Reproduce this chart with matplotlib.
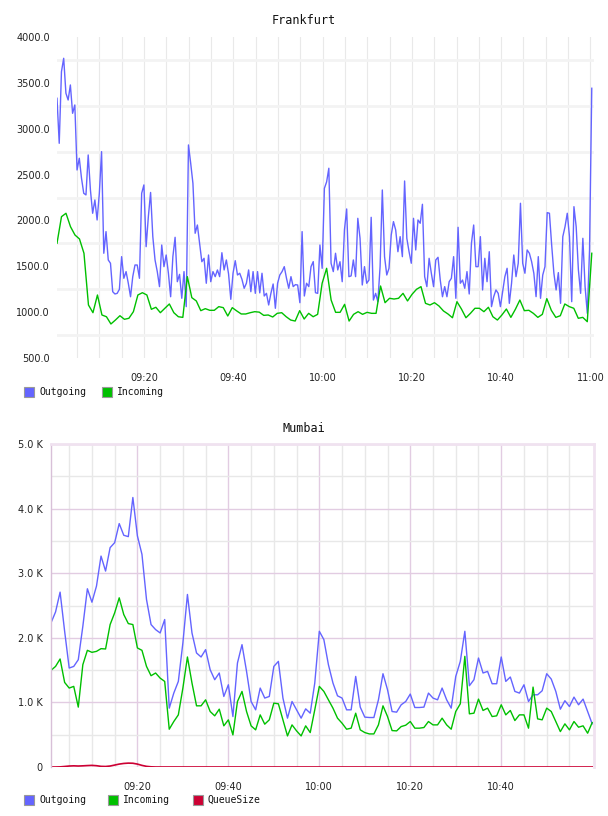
import numpy as np
import matplotlib
matplotlib.use("Agg")
import matplotlib.pyplot as plt
from matplotlib.ticker import FixedLocator, FuncFormatter
from matplotlib.patches import Rectangle

# times are minutes after 09:00
fra_start, fra_end = 0.5, 120.3
fra_outgoing = [
    3332, 2841, 3622, 3768, 3387, 3313, 3477, 3168, 3259, 2550,
    2678, 2460, 2296, 2278, 2714, 2332, 2078, 2223, 2005, 2296,
    2750, 1642, 1878, 1569, 1533, 1223, 1198, 1205, 1249, 1605,
    1369, 1442, 1315, 1168, 1387, 1514, 1514, 1369, 2296, 2387,
    1714, 2041, 2305, 1823, 1569, 1442, 1278, 1732, 1496, 1623,
    1424, 1168, 1605, 1816, 1332, 1412, 1151, 1442, 1060, 2823,
    2623,
    2405, 1860, 1950, 1751, 1550, 1587, 1315, 1623, 1332, 1442,
    1387, 1460, 1387, 1648, 1460, 1569, 1416, 1140, 1424, 1561,
    1405, 1424, 1358, 1260, 1315, 1460, 1223, 1442, 1205, 1442,
    1210, 1424, 1176, 1205, 1078, 1205, 1307, 1042, 1315, 1405,
    1442, 1496, 1369, 1260, 1387, 1278, 1300, 1296, 1103, 1878,
    1176, 1315, 1278, 1496, 1551, 1212, 1205, 1732, 1478, 2350,
    2420,
    2569, 1533, 1442, 1642, 1460, 1550, 1332, 1896, 2125, 1387,
    1395, 1569, 1387, 2023, 1805, 1296, 1496, 1315, 1350, 2034,
    1132, 1205, 1114, 1496, 2332, 1605, 1405, 1478, 1842, 1987,
    1896, 1659, 1823, 1605, 2430, 1805, 1659, 1533, 2023, 1678,
    2005, 1969, 2176, 1387, 1278, 1587, 1424, 1278, 1569, 1598,
    1350, 1168, 1278, 1168, 1332, 1369, 1605, 1151, 1925, 1315,
    1350, 1260, 1442, 1198, 1751, 1950, 1496, 1496, 1823, 1242,
    1587, 1332, 1659, 1060, 1169, 1242, 1205, 1060, 1223, 1387,
    1478, 1096, 1315, 1623, 1387, 1533, 2187, 1533, 1424, 1678,
    1642, 1551, 1424, 1169, 1605, 1151, 1405, 1496, 2085, 2078,
    1732, 1424, 1242, 1431, 1096, 1823, 1932, 2078, 1823, 1114,
    2150, 1932, 1460, 1205, 1805, 1278, 987, 1678, 3441,
]
fra_incoming = [
    1751, 2041, 2078, 1932, 1841, 1798, 1642, 1078, 994, 1187,
    969, 950, 871, 914, 961, 922, 933, 1005, 1187, 1212,
    1187, 1031, 1053, 994, 1042, 1089, 994, 950, 943, 1387,
    1158, 1122, 1016, 1038, 1020, 1020, 1060, 1049, 958, 1049,
    1013, 980, 980, 994, 1005, 1000, 965, 969, 947, 987,
    994, 950, 914, 903, 1016, 925, 987, 950, 976, 1315,
    1478, 1132, 998, 998, 1085, 903, 976, 1005, 976, 998,
    987, 987, 1285, 1103, 1151, 1143, 1151, 1205, 1122, 1194,
    1249, 1278, 1096, 1078, 1103, 1067, 1013, 980, 939, 1114,
    1034, 939, 987, 1042, 1042, 1005, 1053, 950, 914, 969,
    1034, 943, 1031, 1132, 1016, 1020, 987, 943, 976, 1147,
    1020, 943, 961, 1089, 1060, 1042, 933, 943, 896, 1642,
]

mum_start, mum_end = 1.0, 120.0
mum_outgoing = [
    2231, 2400, 2707, 2100, 1532, 1557, 1661, 2178, 2759, 2551,
    2800, 3265, 3033, 3396, 3473, 3768, 3587, 3566, 4172, 3577,
    3292, 2593, 2205, 2127, 2075, 2283, 911, 1144, 1325, 1921,
    2671, 2075, 1765, 1703, 1817, 1506, 1351, 1455, 1092, 1273,
    781, 1610, 1894, 1480, 1014, 885, 1222, 1067, 1092, 1557,
    1635, 1067, 756, 1014, 885, 756, 900, 833, 1300, 2101,
    1972, 1584, 1300, 1102, 1067, 885, 885, 1402, 927, 772,
    766, 766, 1040, 1444, 1196, 859, 849, 963, 1014, 1129,
    921, 921, 927, 1144, 1067, 1040, 1222, 1040, 911, 1402,
    1635, 2101, 1258, 1351, 1687, 1455, 1480, 1289, 1289, 1703,
    1325, 1393, 1170, 1144, 1273, 1014, 1118, 1118, 1180, 1444,
    1361, 1170, 895, 1026, 936, 1082, 963, 1051, 859, 668,
]
mum_incoming = [
    1496, 1557, 1672, 1309, 1222, 1248, 927, 1584, 1806, 1775,
    1790, 1832, 1827, 2205, 2386, 2619, 2360, 2220, 2205, 1843,
    1806, 1557, 1413, 1455, 1376, 1325, 585, 704, 807, 1222,
    1703, 1300, 947, 947, 1040, 859, 792, 895, 637, 730,
    497, 1014, 1170, 859, 637, 575, 807, 663, 730, 989,
    978, 730, 481, 652, 559, 481, 637, 533, 885, 1248,
    1170, 1040, 911, 756, 678, 585, 601, 833, 575, 533,
    512, 512, 652, 947, 781, 564, 559, 626, 647, 704,
    601, 601, 611, 704, 652, 652, 756, 652, 585, 859,
    978, 1713, 823, 833, 1051, 875, 911, 781, 792, 963,
    807, 875, 719, 807, 807, 601, 1237, 745, 730, 911,
    859, 704, 548, 668, 575, 704, 616, 637, 523, 688,
]
mum_queue = [
    0, 0, 2, 8, 15, 18, 15, 18, 22, 25,
    20, 10, 8, 15, 30, 45, 55, 60, 58, 45,
    25, 10, 3, 0, 0, 0, 0, 0, 0, 0,
    0, 0, 0, 0, 0, 0, 0, 0, 0, 0,
    0, 0, 0, 0, 0, 0, 0, 0, 0, 0,
    0, 0, 0, 0, 0, 0, 0, 0, 0, 0,
    0, 0, 0, 0, 0, 0, 0, 0, 0, 0,
    0, 0, 0, 0, 0, 0, 0, 0, 0, 0,
    0, 0, 0, 0, 0, 0, 0, 0, 0, 0,
    0, 0, 0, 0, 0, 0, 0, 0, 0, 0,
    0, 0, 0, 0, 0, 0, 0, 0, 0, 0,
    0, 0, 0, 0, 0, 0, 0, 0, 0, 0,
]

BLUE = '#6464ff'
GREEN = '#00c000'
RED = '#cc0033'
MONO = 'DejaVu Sans Mono'

W, H = 608, 816


def hhmm(m, pos=None):
    m = int(round(m))
    return f"{9 + m // 60:02d}:{m % 60:02d}"


def box(x0, y0, x1, y1):
    # caixa em pixels (a partir do topo) -> fração da figura
    return [x0 / W, 1 - y1 / H, (x1 - x0) / W, (y1 - y0) / H]


def legende(fig, y, itens):
    for x, nome, cor in itens:
        fig.patches.append(Rectangle((x / W, 1 - (y + 5) / H), 10 / W, 10 / H,
                                     transform=fig.transFigure, facecolor=cor,
                                     edgecolor='#999999', lw=0.8))
        fig.text((x + 15) / W, 1 - y / H, nome, fontsize=7, family=MONO,
                 va='center', ha='left', color='#111111')


fig = plt.figure(figsize=(W / 100, H / 100), dpi=100)

# ---------------- Frankfurt ----------------
ax1 = fig.add_axes(box(57, 37, 594, 358))
t_out = np.linspace(fra_start, fra_end, len(fra_outgoing))
t_in = np.linspace(fra_start, fra_end, len(fra_incoming))
ax1.plot(t_out, fra_outgoing, color=BLUE, lw=1.0)
ax1.plot(t_in, fra_incoming, color=GREEN, lw=1.0)
ax1.set_xlim(0.5, 120.8)
ax1.set_ylim(500, 4000)
for s in ax1.spines.values():
    s.set_visible(False)
ax1.set_axisbelow(True)
ax1.yaxis.set_major_locator(FixedLocator(np.arange(500, 4001, 500)))
ax1.yaxis.set_major_formatter(FuncFormatter(lambda v, p: f"{v:.1f}"))
ax1.yaxis.set_minor_locator(FixedLocator(np.arange(750, 4000, 500)))
ax1.xaxis.set_major_locator(FixedLocator(np.arange(20, 121, 20)))
ax1.xaxis.set_major_formatter(FuncFormatter(hhmm))
ax1.xaxis.set_minor_locator(FixedLocator(np.arange(5, 121, 5)))
ax1.grid(which='minor', axis='y', color='#f3f3f3', lw=2.0)
ax1.grid(which='both', axis='x', color='#e9e9e9', lw=0.8)
ax1.tick_params(which='both', length=0, labelsize=7, labelcolor='#222222')
ax1.tick_params(axis='y', pad=5)
ax1.tick_params(axis='x', pad=11)
fig.text(304 / W, 1 - 20 / H, 'Frankfurt', fontsize=8.5, family=MONO,
         ha='center', va='center', color='#111111')
legende(fig, 392, [(24, 'Outgoing', BLUE), (102, 'Incoming', GREEN)])

# ---------------- Mumbai ----------------
ax2 = fig.add_axes(box(51, 444, 594, 767))
t_m = np.linspace(mum_start, mum_end, len(mum_outgoing))
ax2.plot(t_m, mum_outgoing, color=BLUE, lw=1.0)
ax2.plot(t_m, mum_incoming, color=GREEN, lw=1.0)
ax2.plot(t_m, mum_queue, color=RED, lw=1.2)
ax2.set_xlim(1.0, 120.4)
ax2.set_ylim(0, 5000)
ax2.set_axisbelow(True)
ax2.spines['bottom'].set_visible(False)
ax2.spines['left'].set_color('#d8c0d8')
ax2.spines['left'].set_linewidth(1.0)
ax2.spines['top'].set_color('#f0e2f0')
ax2.spines['top'].set_linewidth(2.0)
ax2.spines['right'].set_color('#f0e2f0')
ax2.spines['right'].set_linewidth(2.0)
ax2.yaxis.set_major_locator(FixedLocator(np.arange(0, 5001, 1000)))
ax2.yaxis.set_major_formatter(FuncFormatter(lambda v, p: '0' if v == 0 else f"{v / 1000:.1f} K"))
ax2.yaxis.set_minor_locator(FixedLocator(np.arange(500, 5000, 1000)))
ax2.xaxis.set_major_locator(FixedLocator(np.arange(20, 101, 20)))
ax2.xaxis.set_major_formatter(FuncFormatter(hhmm))
ax2.xaxis.set_minor_locator(FixedLocator(np.arange(5, 120, 5)))
ax2.grid(which='major', color='#e2cce2', lw=1.0)
ax2.grid(which='minor', color='#e8e8e8', lw=1.0)
ax2.tick_params(which='both', length=0, labelsize=7, labelcolor='#222222')
ax2.tick_params(axis='y', pad=6)
ax2.tick_params(axis='x', pad=11)
fig.text(304 / W, 1 - 428 / H, 'Mumbai', fontsize=8.5, family=MONO,
         ha='center', va='center', color='#111111')
legende(fig, 800, [(24, 'Outgoing', BLUE), (108, 'Incoming', GREEN),
                   (193, 'QueueSize', RED)])

fig.savefig('out.png', dpi=100)
